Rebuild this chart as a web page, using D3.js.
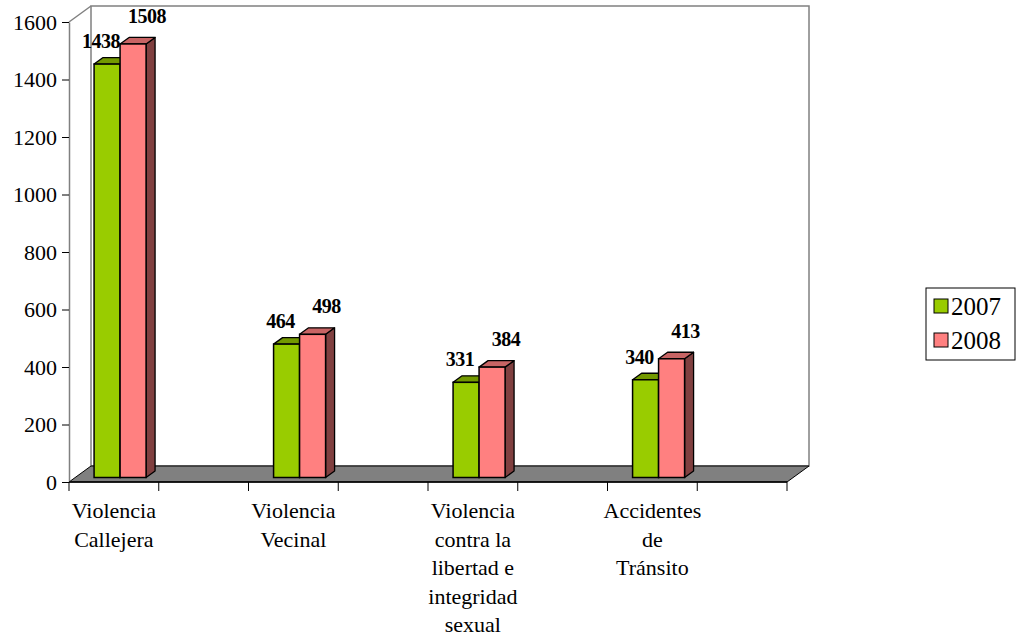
<!DOCTYPE html>
<html>
<head>
<meta charset="utf-8">
<script src="https://cdn.jsdelivr.net/npm/d3@7"></script>
<style>
  body { margin: 0; background: #fff; }
  svg { display: block; }
  svg text { font-family: 'Liberation Serif', 'Times New Roman', serif; fill: #000; }
</style>
</head>
<body>
<div id="chart"></div>
<script>
// Data
const categories = [
  'Violencia\nCallejera',
  'Violencia\nVecinal',
  'Violencia\ncontra la\nlibertad e\nintegridad\nsexual',
  'Accidentes\nde\nTránsito'
];
const seriesNames = ['2007', '2008'];
const values2007 = [1438, 464, 331, 340];
const values2008 = [1508, 498, 384, 413];
const yTicks = [0, 200, 400, 600, 800, 1000, 1200, 1400, 1600];

// Styles
const width = 1016, height = 638;
const barColors = [
  { front: '#99CC00', top: '#739900', side: '#4d6600' },
  { front: '#FF8080', top: '#C86464', side: '#804040' }
];
const floorDepth = { dx: 22, dy: -16 };   // full depth of the floor / walls
const barOffset = { dx: 6.2, dy: -4.5 };  // bars stand a little behind the front edge
const barDepth = { dx: 9, dy: -6.5 };     // depth of each bar
const barWidth = 26;
const labelOffsets = [{ dx: -6, dy: -16 }, { dx: 14, dy: -21 }];

const svg = d3.select('#chart')
  .append('svg')
  .attr('width', width)
  .attr('height', height);

// Scales
const x = d3.scaleBand()
  .domain(categories)
  .range([69, 787]);

const y = d3.scaleLinear()
  .domain([0, 1600])
  .range([482, 22]);

const [x0, x1] = x.range();
const bw = x.bandwidth();

// Back wall
svg.append('rect')
  .attr('x', x0 + floorDepth.dx)
  .attr('y', y(1600) + floorDepth.dy)
  .attr('width', x1 - x0)
  .attr('height', y(0) - y(1600))
  .attr('fill', '#fff')
  .attr('stroke', '#808080')
  .attr('stroke-width', 1.5);

// Side wall edge
svg.append('line')
  .attr('x1', x0).attr('y1', y(1600))
  .attr('x2', x0 + floorDepth.dx).attr('y2', y(1600) + floorDepth.dy)
  .attr('stroke', '#808080')
  .attr('stroke-width', 1.5);

// Floor
const floorPts = [
  [x0, y(0)],
  [x0 + floorDepth.dx, y(0) + floorDepth.dy],
  [x1 + floorDepth.dx, y(0) + floorDepth.dy],
  [x1, y(0)]
];
svg.append('polygon')
  .attr('points', floorPts.map(p => p.join(',')).join(' '))
  .attr('fill', '#808080')
  .attr('stroke', '#000')
  .attr('stroke-width', 1);

// Bars
const allValues = [values2007, values2008];
const bars = svg.append('g');

categories.forEach((cat, i) => {
  const center = x(cat) + bw / 4;
  allValues.forEach((vals, s) => {
    const v = vals[i];
    const left = center - barWidth + s * barWidth + barOffset.dx;
    const right = left + barWidth;
    const top = y(v) + barOffset.dy;
    const bottom = y(0) + barOffset.dy;
    const c = barColors[s];

    // side face
    bars.append('polygon')
      .attr('points', [
        [right, top], [right + barDepth.dx, top + barDepth.dy],
        [right + barDepth.dx, bottom + barDepth.dy], [right, bottom]
      ].map(p => p.join(',')).join(' '))
      .attr('fill', c.side)
      .attr('stroke', '#000')
      .attr('stroke-width', 1.3)
      .attr('stroke-linejoin', 'round');

    // top face
    bars.append('polygon')
      .attr('points', [
        [left, top], [left + barDepth.dx, top + barDepth.dy],
        [right + barDepth.dx, top + barDepth.dy], [right, top]
      ].map(p => p.join(',')).join(' '))
      .attr('fill', c.top)
      .attr('stroke', '#000')
      .attr('stroke-width', 1.3)
      .attr('stroke-linejoin', 'round');

    // front face
    bars.append('rect')
      .attr('x', left)
      .attr('y', top)
      .attr('width', barWidth)
      .attr('height', bottom - top)
      .attr('fill', c.front)
      .attr('stroke', '#000')
      .attr('stroke-width', 1.5);
  });
});

// Value labels
categories.forEach((cat, i) => {
  const center = x(cat) + bw / 4;
  allValues.forEach((vals, s) => {
    const v = vals[i];
    const left = center - barWidth + s * barWidth + barOffset.dx;
    svg.append('text')
      .attr('x', left + barWidth / 2 + labelOffsets[s].dx)
      .attr('y', y(v) + barOffset.dy + labelOffsets[s].dy)
      .attr('text-anchor', 'middle')
      .style('font-size', '20px')
      .style('font-weight', 'bold')
      .style('letter-spacing', '-0.5px')
      .text(v);
  });
});

// Y axis
const yAxis = svg.append('g')
  .attr('transform', `translate(${x0},0)`)
  .call(d3.axisLeft(y).tickValues(yTicks).tickFormat(d3.format('d'))
    .tickSize(7).tickSizeOuter(0).tickPadding(5));
yAxis.attr('font-family', null);
yAxis.select('.domain').attr('stroke', '#808080').attr('stroke-width', 1.5);
yAxis.selectAll('.tick line').attr('stroke', '#000');
yAxis.selectAll('.tick text')
  .attr('fill', '#000')
  .style('font-size', '22px');

// X axis (ticks every half category)
const xTickPos = [];
categories.forEach(cat => { xTickPos.push(x(cat), x(cat) + bw / 2); });
xTickPos.push(x1);
const xAxis = svg.append('g');
xAxis.append('line')
  .attr('x1', x0).attr('x2', x1)
  .attr('y1', y(0)).attr('y2', y(0))
  .attr('stroke', '#000').attr('stroke-width', 1.3);
xAxis.selectAll('.xtick')
  .data(xTickPos)
  .enter()
  .append('line')
  .attr('x1', d => d).attr('x2', d => d)
  .attr('y1', y(0)).attr('y2', y(0) + 9)
  .attr('stroke', '#000').attr('stroke-width', 1);

// Category labels
categories.forEach(cat => {
  const t = svg.append('text')
    .attr('text-anchor', 'middle')
    .style('font-size', '22px');
  cat.split('\n').forEach((line, k) => {
    t.append('tspan')
      .attr('x', x(cat) + bw / 4)
      .attr('y', 518 + k * 28.5)
      .text(line);
  });
});

// Legend
const legend = svg.append('g').attr('transform', 'translate(926,288)');
legend.append('rect')
  .attr('width', 89).attr('height', 72)
  .attr('fill', '#fff')
  .attr('stroke', '#000').attr('stroke-width', 1);
seriesNames.forEach((name, s) => {
  legend.append('rect')
    .attr('x', 8).attr('y', 11 + s * 34)
    .attr('width', 14).attr('height', 14)
    .attr('fill', barColors[s].front)
    .attr('stroke', '#000').attr('stroke-width', 1);
  legend.append('text')
    .attr('x', 25).attr('y', 27 + s * 34)
    .style('font-size', '25px')
    .text(name);
});
</script>
</body>
</html>
